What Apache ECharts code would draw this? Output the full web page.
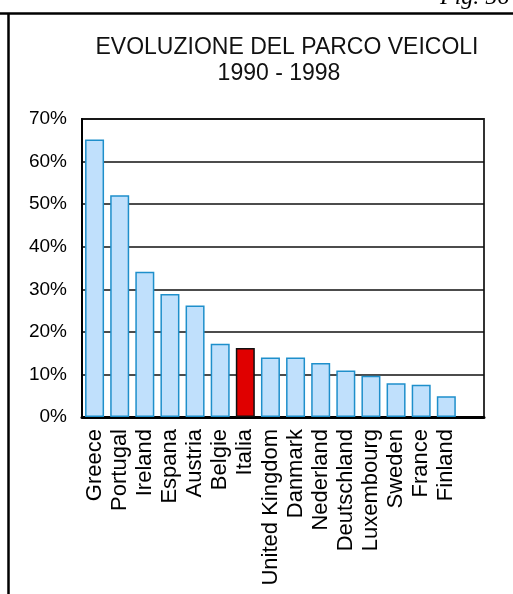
<!DOCTYPE html>
<html>
<head>
<meta charset="utf-8">
<script src="https://cdn.jsdelivr.net/npm/echarts@6/dist/echarts.min.js"></script>
<style>
html,body{margin:0;padding:0;background:#fff;}
#chart{width:513px;height:594px;}
</style>
</head>
<body>
<div id="chart"></div>
<script>
var titleLine1 = 'EVOLUZIONE DEL PARCO VEICOLI';
var titleLine2 = '1990 - 1998';
var figLabel = 'Fig. 56';
var categories = ['Greece','Portugal','Ireland','Espana','Austria','Belgie','Italia','United Kingdom','Danmark','Nederland','Deutschland','Luxembourg','Sweden','France','Finland',''];
var growth = [65.2,52.1,34.1,28.9,26.2,17.2,16.2,14.0,14.0,12.7,10.9,9.7,7.9,7.6,4.9,null];
var highlight = 'Italia';
var yTicks = [0,10,20,30,40,50,60,70];

var chart = echarts.init(document.getElementById('chart'), null, {renderer:'canvas'});
var data = growth.map(function(v,i){
  if (categories[i] === highlight) {
    return {value:v, itemStyle:{color:'#E00000', borderColor:'#111', borderWidth:1.5}};
  }
  return v;
});
chart.setOption({
  animation:false,
  backgroundColor:'#fff',
  title:[
    {text:titleLine1, left:282, top:31, textAlign:'center',
     textStyle:{fontFamily:'Liberation Sans', fontSize:23, fontWeight:'normal', color:'#111'}},
    {text:titleLine2, left:274, top:57, textAlign:'center',
     textStyle:{fontFamily:'Liberation Sans', fontSize:23, fontWeight:'normal', color:'#111'}}
  ],
  graphic:[
    {type:'line', shape:{x1:0,y1:13.5,x2:513,y2:13.5}, style:{stroke:'#000', lineWidth:2.5}},
    {type:'line', shape:{x1:8.5,y1:13,x2:8.5,y2:594}, style:{stroke:'#000', lineWidth:2.5}},
    {type:'text', left:440, top:-14, style:{text:figLabel, font:'italic 24px "Liberation Serif"', fill:'#000'}}
  ],
  grid:{left:82, right:29, top:119, bottom:177, show:true, borderColor:'#333', borderWidth:2, backgroundColor:'transparent'},
  xAxis:{
    type:'category', data:categories,
    axisLine:{lineStyle:{color:'#000', width:3}},
    axisTick:{show:false},
    axisLabel:{rotate:90, interval:0, margin:12, fontFamily:'Liberation Sans', fontSize:22, color:'#000'}
  },
  yAxis:{
    type:'value', min:yTicks[0], max:yTicks[yTicks.length-1], interval:10,
    axisLine:{show:true, lineStyle:{color:'#000', width:2}},
    axisTick:{show:false},
    splitLine:{lineStyle:{color:'#111', width:1.5}},
    axisLabel:{formatter:'{value}%', margin:15, fontFamily:'Liberation Sans', fontSize:19, color:'#000'}
  },
  series:[{
    type:'bar', data:data, barWidth:19,
    itemStyle:{color:'#C0E0FC', borderColor:'#1E8FCB', borderWidth:1.5}
  }]
});
</script>
</body>
</html>
